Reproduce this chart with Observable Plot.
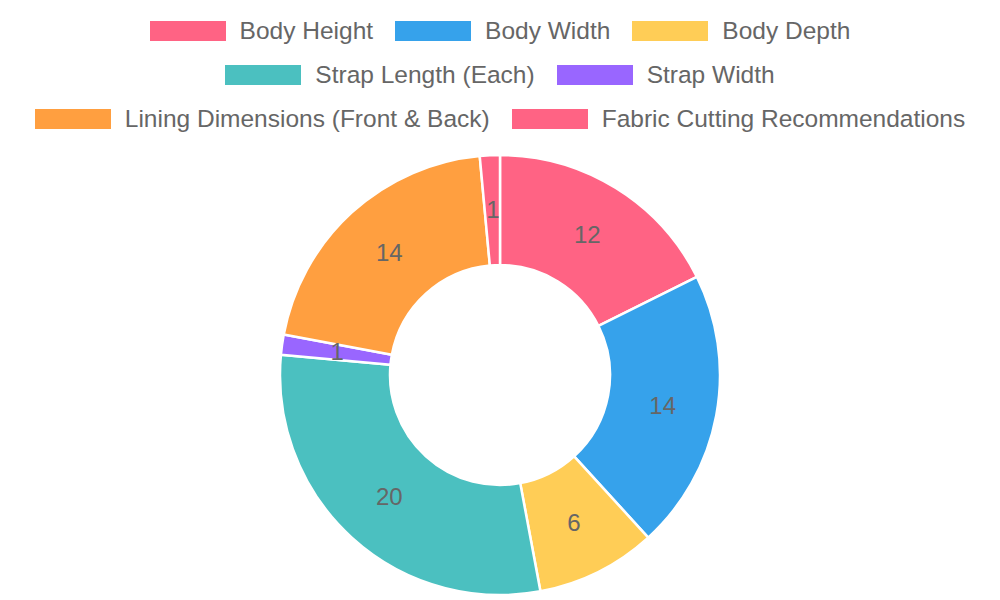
<!DOCTYPE html>
<html>
<head>
<meta charset="utf-8">
<script src="https://cdn.jsdelivr.net/npm/d3@7"></script>
<script src="https://cdn.jsdelivr.net/npm/@observablehq/plot@0.6"></script>
<style>
  html, body { margin: 0; padding: 0; background: #fff; }
  body { width: 1000px; height: 600px; overflow: hidden; font-family: "Liberation Sans", Arial, Helvetica, sans-serif; }
  #legend { height: 140px; padding-top: 9px; box-sizing: border-box; }
  .row { display: flex; justify-content: center; height: 44px; align-items: flex-start; }
  .item { display: flex; align-items: center; margin: 0 11px; height: 44px; }
  .sw { width: 76px; height: 20px; margin-right: 14px; }
  .lbl { font-size: 24.5px; color: #666; white-space: nowrap; font-family: "Liberation Sans", Arial, sans-serif; }
  #chart svg { display: block; }
</style>
</head>
<body>
<div id="legend"></div>
<div id="chart"></div>
<script>
const categories = ["Body Height", "Body Width", "Body Depth", "Strap Length (Each)", "Strap Width", "Lining Dimensions (Front & Back)", "Fabric Cutting Recommendations"];
const values = [12, 14, 6, 20, 1, 14, 1];
const colors = ["#ff6384", "#36a2eb", "#ffcd56", "#4bc0c0", "#9966ff", "#ff9f40", "#ff6384"];
const legendRows = [[0, 1, 2], [3, 4], [5, 6]];

// Legend
const legend = document.getElementById("legend");
for (const row of legendRows) {
  const r = document.createElement("div");
  r.className = "row";
  for (const i of row) {
    const it = document.createElement("div");
    it.className = "item";
    const sw = document.createElement("div");
    sw.className = "sw";
    sw.style.background = colors[i];
    const lb = document.createElement("span");
    lb.className = "lbl";
    lb.textContent = categories[i];
    it.appendChild(sw); it.appendChild(lb);
    r.appendChild(it);
  }
  legend.appendChild(r);
}

// Slices
const pie = d3.pie().sort(null).value(d => d.value);
const data = categories.map((c, i) => ({category: c, value: values[i], color: colors[i]}));
const arcs = pie(data).map(a => ({...a.data, startAngle: a.startAngle, endAngle: a.endAngle,
  mid: (a.startAngle + a.endAngle) / 2}));
const inner = 0.5, labelR = 0.75;

const chart = Plot.plot({
  width: 1000,
  height: 460,
  margin: 0,
  x: {domain: [-1, 1], range: [280, 720], axis: null},
  y: {domain: [-1, 1], range: [455, 15], axis: null},
  marks: [
    Plot.dot(arcs, {
      x: () => 0, y: () => 0,
      render(index, scales, values, dimensions, context) {
        const cx = scales.x(0), cy = scales.y(0);
        const R = scales.x(1) - scales.x(0);
        const arc = d3.arc().innerRadius(R * inner).outerRadius(R);
        const g = d3.select(context.document.createElementNS("http://www.w3.org/2000/svg", "g"))
          .attr("transform", `translate(${cx},${cy})`);
        for (const i of index) {
          const d = arcs[i];
          g.append("path")
            .attr("d", arc({startAngle: d.startAngle, endAngle: d.endAngle}))
            .attr("fill", d.color)
            .attr("stroke", "#fff")
            .attr("stroke-width", 2.5)
            .attr("stroke-linejoin", "round");
        }
        return g.node();
      }
    }),
    Plot.text(arcs, {
      x: d => labelR * Math.sin(d.mid),
      y: d => labelR * Math.cos(d.mid),
      text: d => String(d.value),
      fill: "#666",
      fontSize: 24,
      fontFamily: "Liberation Sans, Arial, sans-serif"
    })
  ]
});
document.getElementById("chart").appendChild(chart);
</script>
</body>
</html>
